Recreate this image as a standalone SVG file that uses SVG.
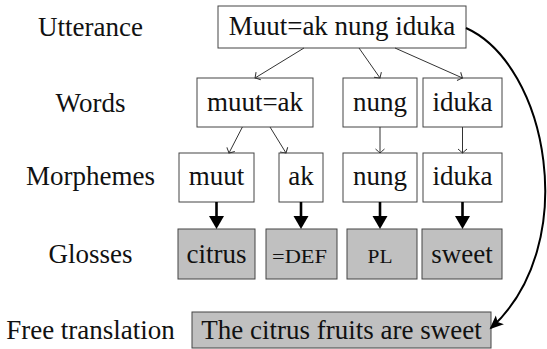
<svg xmlns="http://www.w3.org/2000/svg" width="547" height="349" viewBox="0 0 547 349">
<style>
text{font-family:'Liberation Serif','Times New Roman',serif;font-size:27px;fill:#111;text-anchor:middle}
.sc{font-size:18px}
rect{stroke:#444;stroke-width:1;fill:#fff}
.g rect{fill:#c0c0c0}
.thin{stroke:#333;stroke-width:1;fill:none;marker-end:url(#open)}
.thick{stroke:#000;stroke-width:2.6;fill:none;marker-end:url(#tri)}
.curve{stroke:#000;stroke-width:2;fill:none;marker-end:url(#stealth)}
</style>
<defs>
<marker id="open" markerUnits="userSpaceOnUse" orient="auto" refX="0" refY="0" markerWidth="12" markerHeight="12" viewBox="-6 -6 12 12" overflow="visible">
<path d="M-4,-4.5 Q-1,-1 0,0 Q-1,1 -4,4.5" fill="none" stroke="#333" stroke-width="1"/>
</marker>
<marker id="tri" markerUnits="userSpaceOnUse" orient="auto" refX="0" refY="0" markerWidth="20" markerHeight="20" viewBox="-2 -10 20 20" overflow="visible">
<path d="M0,-7.5 L13,0 L0,7.5 Z" fill="#000"/>
</marker>
<marker id="stealth" markerUnits="userSpaceOnUse" orient="auto" refX="0" refY="0" markerWidth="20" markerHeight="20" viewBox="-14 -10 20 20" overflow="visible">
<path d="M-12,-6 L2,0 L-12,6 L-9,0 Z" fill="#000"/>
</marker>
</defs>

<g id="labels">
<text x="90.5" y="36">Utterance</text>
<text x="90.5" y="112">Words</text>
<text x="90.5" y="185">Morphemes</text>
<text x="90.5" y="263">Glosses</text>
<text x="90.5" y="339">Free translation</text>
</g>

<g id="utterance"><rect x="218" y="6" width="248" height="42"/><text x="342" y="35">Muut=ak nung iduka</text></g>

<g id="w-muutak"><rect x="197" y="78" width="116" height="49"/><text x="255" y="111">muut=ak</text></g>
<g id="w-nung"><rect x="343" y="78" width="74" height="49"/><text x="380" y="111">nung</text></g>
<g id="w-iduka"><rect x="423" y="78" width="79" height="49"/><text x="462.5" y="111">iduka</text></g>

<g id="m-muut"><rect x="179" y="153" width="75" height="49"/><text x="216.5" y="185">muut</text></g>
<g id="m-ak"><rect x="279" y="153" width="44" height="49"/><text x="301" y="185">ak</text></g>
<g id="m-nung"><rect x="343" y="153" width="74" height="49"/><text x="380" y="185">nung</text></g>
<g id="m-iduka"><rect x="423" y="153" width="79" height="49"/><text x="462.5" y="185">iduka</text></g>

<g id="g-citrus" class="g"><rect x="178" y="229" width="77" height="50"/><text x="216.5" y="263">citrus</text></g>
<g id="g-def" class="g"><rect x="266" y="229" width="71" height="50"/><text class="sc" x="299.5" y="263" textLength="55" lengthAdjust="spacingAndGlyphs">=DEF</text></g>
<g id="g-pl" class="g"><rect x="347" y="229" width="70" height="50"/><text class="sc" x="380" y="263" textLength="25" lengthAdjust="spacingAndGlyphs">PL</text></g>
<g id="g-sweet" class="g"><rect x="422" y="229" width="80" height="50"/><text x="462" y="263">sweet</text></g>

<g id="free" class="g"><rect x="192" y="312" width="299" height="36"/><text x="341.5" y="339">The citrus fruits are sweet</text></g>

<g id="connectors">
<line class="thin" x1="304" y1="48" x2="255" y2="78"/>
<line class="thin" x1="359" y1="48" x2="380" y2="78"/>
<line class="thin" x1="395" y1="48" x2="462.5" y2="78"/>
<line class="thin" x1="242.4" y1="127" x2="229" y2="153"/>
<line class="thin" x1="270" y1="127" x2="286" y2="153"/>
<line class="thin" x1="380" y1="127" x2="380" y2="153"/>
<line class="thin" x1="462.5" y1="127" x2="462.5" y2="153"/>
<line class="thick" x1="216.5" y1="202" x2="216.5" y2="216"/>
<line class="thick" x1="301" y1="202" x2="301" y2="216"/>
<line class="thick" x1="380" y1="202" x2="380" y2="216"/>
<line class="thick" x1="462.5" y1="202" x2="462.5" y2="216"/>
<path class="curve" d="M466,28 C548,65 582,245 491,328"/>
</g>
</svg>
